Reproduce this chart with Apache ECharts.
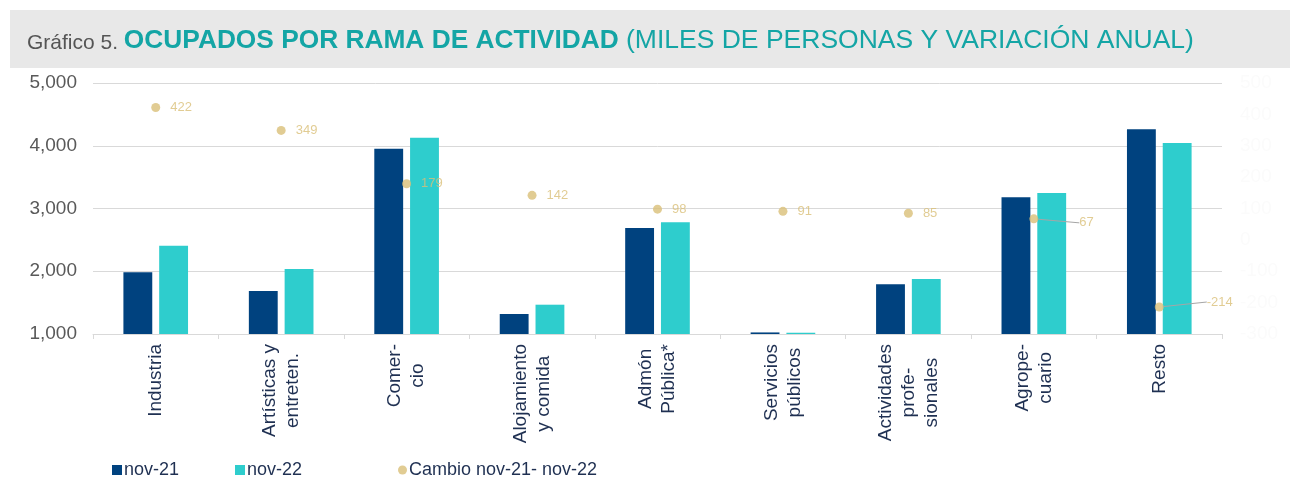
<!DOCTYPE html>
<html>
	<head>
		<meta charset="UTF-8">
		<title>Ocupados por rama de actividad</title>
		<script src="https://cdn.jsdelivr.net/npm/echarts@6/dist/echarts.min.js"></script>
		<style type="text/css">
			html, body { margin: 0; padding: 0; background: #fff; }
			#chart { width: 1290px; height: 479px; }
		</style>
	</head>
	<body>
		<div id="chart"></div>
		<script type="text/javascript">
			// datos
			var categorias = ['Industria', 'Artísticas y\nentreten.', 'Comer-\ncio', 'Alojamiento\ny comida', 'Admón\nPública*', 'Servicios\npúblicos', 'Actividades\nprofe-\nsionales', 'Agrope-\ncuario', 'Resto'];
			var nov21 = [1983, 1685, 3953, 1319, 2689, 1025, 1792, 3178, 4262];
			var nov22 = [2407, 2036, 4129, 1467, 2780, 1020, 1876, 3247, 4044];
			var cambio = [422, 349, 179, 142, 98, 91, 85, 67, -214];
			var ticksIzq = [1000, 5000, 1000];   // min, max, paso
			var ticksDer = [-300, 500, 100];

			var fuente = 'Liberation Sans, Arial, sans-serif';
			var azul = '#00427f', turquesa = '#2ecdcd', oro = '#d9bf78', texto = '#1f3052';

			var myChart = echarts.init(document.getElementById('chart'));

			var option = {
				backgroundColor: '#fff',
				textStyle: { fontFamily: fuente },
				graphic: [{
					type: 'rect',
					z: -10,
					shape: { x: 10, y: 10, width: 1280, height: 58 },
					style: { fill: '#e8e8e8' }
				}],
				title: {
					left: 22,
					top: 22,
					text: '{a|Gráfico 5. }{b|OCUPADOS POR RAMA DE ACTIVIDAD}{c| (MILES DE PERSONAS Y VARIACIÓN ANUAL)}',
					textStyle: {
						fontWeight: 'normal',
						rich: {
							a: { fontSize: 21, color: '#555555', fontWeight: 'normal', fontFamily: fuente, verticalAlign: 'bottom' },
							b: { fontSize: 26.3, color: '#14a5a5', fontWeight: 'bold', fontFamily: fuente, verticalAlign: 'bottom' },
							c: { fontSize: 26.5, color: '#14a5a5', fontWeight: 'normal', fontFamily: fuente, verticalAlign: 'bottom' }
						}
					}
				},
				legend: [{
					left: 107, top: 456,
					itemWidth: 10, itemHeight: 10,
					icon: 'rect',
					data: ['nov-21'],
					textStyle: { fontSize: 18, color: texto, padding: [0, 0, 0, -3] }
				}, {
					left: 230, top: 456,
					itemWidth: 10, itemHeight: 10,
					icon: 'rect',
					data: ['nov-22'],
					textStyle: { fontSize: 18, color: texto, padding: [0, 0, 0, -3] }
				}, {
					left: 393, top: 456,
					itemWidth: 9, itemHeight: 9,
					icon: 'circle',
					data: ['Cambio nov-21- nov-22'],
					textStyle: { fontSize: 18, color: texto, padding: [0, 0, 0, -3] }
				}],
				grid: {
					left: 93,
					right: 68,
					top: 83,
					bottom: 145
				},
				xAxis: {
					type: 'category',
					data: categorias,
					axisLine: { onZero: false, lineStyle: { color: '#d9d9d9', width: 1 } },
					axisTick: { show: true, length: 5, lineStyle: { color: '#d9d9d9' } },
					axisLabel: {
						interval: 0,
						rotate: 90,
						margin: 10,
						formatter: function(v) {
							return v.split('\n').map(function(s) { return '{c|' + s + '}'; }).join('\n');
						},
						rich: {
							c: { align: 'center', fontSize: 19, lineHeight: 23, color: texto, fontFamily: fuente }
						}
					}
				},
				yAxis: [{
					type: 'value',
					min: ticksIzq[0],
					max: ticksIzq[1],
					interval: ticksIzq[2],
					axisLine: { show: false },
					axisTick: { show: false },
					splitLine: { lineStyle: { color: '#d9d9d9' } },
					axisLabel: { fontSize: 19, color: '#595959', margin: 16 }
				}, {
					type: 'value',
					min: ticksDer[0],
					max: ticksDer[1],
					interval: ticksDer[2],
					axisLine: { show: false },
					axisTick: { show: false },
					splitLine: { show: false },
					axisLabel: { fontSize: 19, color: '#fbfbfb', margin: 18 }
				}],
				series: [{
					name: 'nov-21',
					type: 'bar',
					data: nov21,
					barWidth: '23%',
					barGap: '24%',
					itemStyle: { color: azul }
				}, {
					name: 'nov-22',
					type: 'bar',
					data: nov22,
					barWidth: '23%',
					itemStyle: { color: turquesa }
				}, {
					name: 'Cambio nov-21- nov-22',
					type: 'scatter',
					yAxisIndex: 1,
					data: cambio.map(function(v, i) {
						return (i >= 7) ? { value: v, labelLine: { show: true } } : v;
					}),
					symbolSize: 9,
					z: 5,
					itemStyle: { color: oro },
					label: {
						show: true,
						position: 'right',
						distance: 10,
						color: oro,
						fontSize: 13
					},
					labelLine: {
						show: false,
						lineStyle: { color: '#a6a6a6', width: 1 }
					},
					labelLayout: function(p) {
						if (p.dataIndex === 7) return { dx: 31, dy: 4 };
						if (p.dataIndex === 8) return { dx: 33, dy: -5 };
						return {};
					}
				}]
			};

			myChart.setOption(option);
		</script>
	</body>
</html>
